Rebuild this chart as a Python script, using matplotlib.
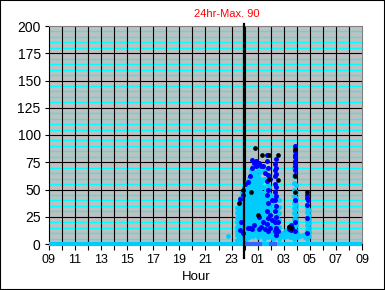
import matplotlib
matplotlib.use("Agg")
import matplotlib.pyplot as plt
from matplotlib.patches import Rectangle

plt.rcParams['font.family'] = ['Liberation Sans', 'DejaVu Sans']

title_text = "24hr-Max. 90"
x_label = "Hour"
hour_ticks = list(range(9, 34, 2))
hour_labels = ["09", "11", "13", "15", "17", "19", "21", "23", "01", "03", "05", "07", "09"]
y_ticks = list(range(0, 201, 25))
now_time = 23.95

# clock time (hours) and values per column
cyan_cols = [
    (22.70, [7]),
    (23.42, [4, 8, 12, 16, 20, 24, 28, 33]),
    (23.55, [3, 7, 11, 15, 19, 23, 27, 31, 36]),
    (23.68, [5, 9, 13, 17, 22, 26, 30, 34, 38, 42]),
    (23.80, [6, 10, 14, 18, 22, 27, 31, 35, 39, 44, 48]),
    (23.95, [7, 12, 17, 22, 27, 32, 37, 42, 47, 52]),
    (0.08, [5, 10, 15, 20, 25, 30, 35, 40, 45, 50, 55]),
    (0.22, [8, 13, 18, 23, 28, 33, 38, 43, 48, 53, 57]),
    (0.36, [6, 11, 16, 21, 26, 31, 36, 41, 46, 51, 56, 61]),
    (0.50, [9, 14, 19, 24, 29, 34, 39, 44, 49, 54, 59, 64, 68]),
    (0.64, [7, 12, 17, 22, 27, 32, 37, 42, 47, 52, 57, 62, 67, 72]),
    (0.78, [10, 15, 20, 25, 30, 35, 40, 45, 50, 55, 60, 65]),
    (0.92, [8, 13, 18, 23, 28, 33, 38, 43, 48, 53, 58]),
    (1.06, [6, 11, 16, 21, 26, 31, 36, 41, 46, 51, 56, 62, 68]),
    (1.20, [9, 14, 19, 24, 29, 34, 39, 44, 49, 54, 60, 66]),
    (1.34, [7, 12, 17, 22, 27, 32, 37, 42, 47, 52, 58]),
    (1.48, [5, 10, 15, 20, 25, 30, 35, 40, 45, 52, 60, 68]),
    (1.62, [8, 13, 18, 23, 28, 33, 38, 44, 50]),
    (1.76, [6, 11, 16, 21, 26, 31, 36, 42, 48, 55, 62, 70]),
    (1.90, [9, 14, 19, 24, 29, 34, 40, 46, 52]),
    (2.04, [7, 12, 17, 22, 27, 32, 38, 44]),
    (2.18, [5, 10, 15, 20, 26, 32, 38]),
    (2.32, [6, 12, 18, 24, 30, 36, 42]),
    (2.46, [8, 14, 20, 26, 32]),
    (2.60, [5, 10, 16, 22, 28, 34, 40]),
    (2.74, [6, 9]),
    (2.90, [7, 10]),
    (3.05, [6, 9]),
    (3.20, [7, 10, 13]),
    (3.35, [8, 12]),
    (3.50, [6, 10, 14]),
    (3.65, [7, 11]),
    (3.80, [5, 9, 13, 18, 23, 28, 33, 38, 44, 50, 56, 62, 70]),
    (3.92, [7, 12, 17, 22, 27, 32, 37, 42, 48, 54]),
    (4.05, [6, 10]),
    (4.25, [7]),
    (4.45, [8]),
    (4.65, [6, 9]),
    (4.78, [5, 9, 13, 17, 21, 25, 29, 33, 37, 41]),
    (4.90, [7, 11, 15, 19, 23, 27, 31]),
]

blue_cols = [
    (23.62, [41, 13]),
    (23.75, [20]),
    (23.85, [45, 10]),
    (0.05, [55]),
    (0.25, [57, 15]),
    (0.45, [62, 15]),
    (0.60, [77, 70, 14]),
    (0.75, [74, 17]),
    (0.90, [76, 72]),
    (1.10, [74, 25, 14]),
    (1.25, [72, 16]),
    (1.40, [72, 20]),
    (1.55, [65, 14]),
    (1.72, [82, 76, 58, 45, 30, 18]),
    (1.82, [70, 63, 50, 38, 24, 12]),
    (1.95, [60, 27, 15]),
    (2.10, [40, 22]),
    (2.30, [73, 68, 62, 55, 48, 40, 30, 20, 12]),
    (2.42, [78, 70, 64, 52, 44, 35, 25, 15, 8]),
    (2.55, [20, 12]),
    (3.40, [16, 14]),
    (3.55, [17, 13]),
    (3.65, [15]),
    (3.85, [90, 85, 80, 76, 72, 68, 63, 40, 20, 12]),
    (3.90, [82, 74]),
    (4.80, [45, 42, 36, 24, 10]),
    (4.85, [40]),
]

black_cols = [
    (23.60, [38]),
    (23.90, [50]),
    (0.50, [48]),
    (0.77, [88]),
    (1.00, [27]),
    (1.31, [82]),
    (1.87, [82, 60]),
    (2.54, [82, 59]),
    (3.40, [16]),
    (3.55, [15]),
    (3.85, [87, 62, 48]),
    (4.78, [48]),
]

zero_span = [9, 33]
blue_zero_spans = [(23.85, 1.35), (1.85, 2.45)]


def to_axis(h):
    return h if h >= 9 else h + 24


def flatten(cols):
    xs, ys = [], []
    for t, vals in cols:
        for v in vals:
            xs.append(to_axis(t))
            ys.append(v)
    return xs, ys


fig = plt.figure(figsize=(3.85, 2.9), dpi=100)
ax = fig.add_axes([49 / 385, 46 / 290, 313 / 385, 218 / 290])
ax.set_facecolor("#C0C0C0")
ax.set_xlim(9, 33)
ax.set_ylim(0, 200)

ax.set_yticks(y_ticks)
ax.set_xticks(hour_ticks)
ax.set_xticklabels(hour_labels)
ax.set_xticks([h for h in range(9, 34) if h not in hour_ticks], minor=True)

# grid lines: cyan minor first, then black
for v in range(5, 200, 5):
    if v % 25:
        ax.axhline(v, color="#00FFFF", lw=0.9, zorder=1)
for v in y_ticks[1:-1]:
    ax.axhline(v, color="black", lw=0.8, zorder=1.5)
for h in range(10, 33):
    ax.axvline(h, color="black", lw=0.8, zorder=1.5)

ax.tick_params(axis="y", which="major", length=3, width=0.8, pad=3, labelsize=10)
ax.tick_params(axis="x", which="both", length=4.5, width=0.8, pad=3, labelsize=9, direction="out")

for s in ["top", "right"]:
    ax.spines[s].set_color("#808080")
for s in ["left", "bottom"]:
    ax.spines[s].set_color("black")

# zero readings
ax.plot(zero_span, [0, 0], color="#00CCFF", lw=3, clip_on=False, zorder=3, solid_capstyle="butt")
for a, b in blue_zero_spans:
    ax.plot([to_axis(a), to_axis(b)], [0, 0], color="#3366FF", lw=3, clip_on=False, zorder=3,
            solid_capstyle="butt")

cx, cy = flatten(cyan_cols)
bx, by = flatten(blue_cols)
kx, ky = flatten(black_cols)
ax.plot(cx, cy, "o", color="#00CCFF", ms=3.5, mew=0, zorder=4)
ax.plot(bx, by, "o", color="#0000FF", ms=3.6, mew=0, zorder=5)
ax.plot(kx, ky, "o", color="black", ms=3.4, mew=0, zorder=6)

# current time marker
ax.plot([now_time, now_time], [202, -13], color="black", lw=1.6, clip_on=False, zorder=7)

fig.text(227 / 385, 1 - 14 / 290, title_text, color="red", fontsize=8, ha="center", va="center")
fig.text(196 / 385, 1 - 277 / 290, x_label, fontsize=9.5, ha="center", va="center")

fig.patches.append(Rectangle((0, 0), 1, 1, transform=fig.transFigure, fill=False,
                             ec="black", lw=1.5))

fig.savefig("out.png", dpi=100, facecolor="white")
